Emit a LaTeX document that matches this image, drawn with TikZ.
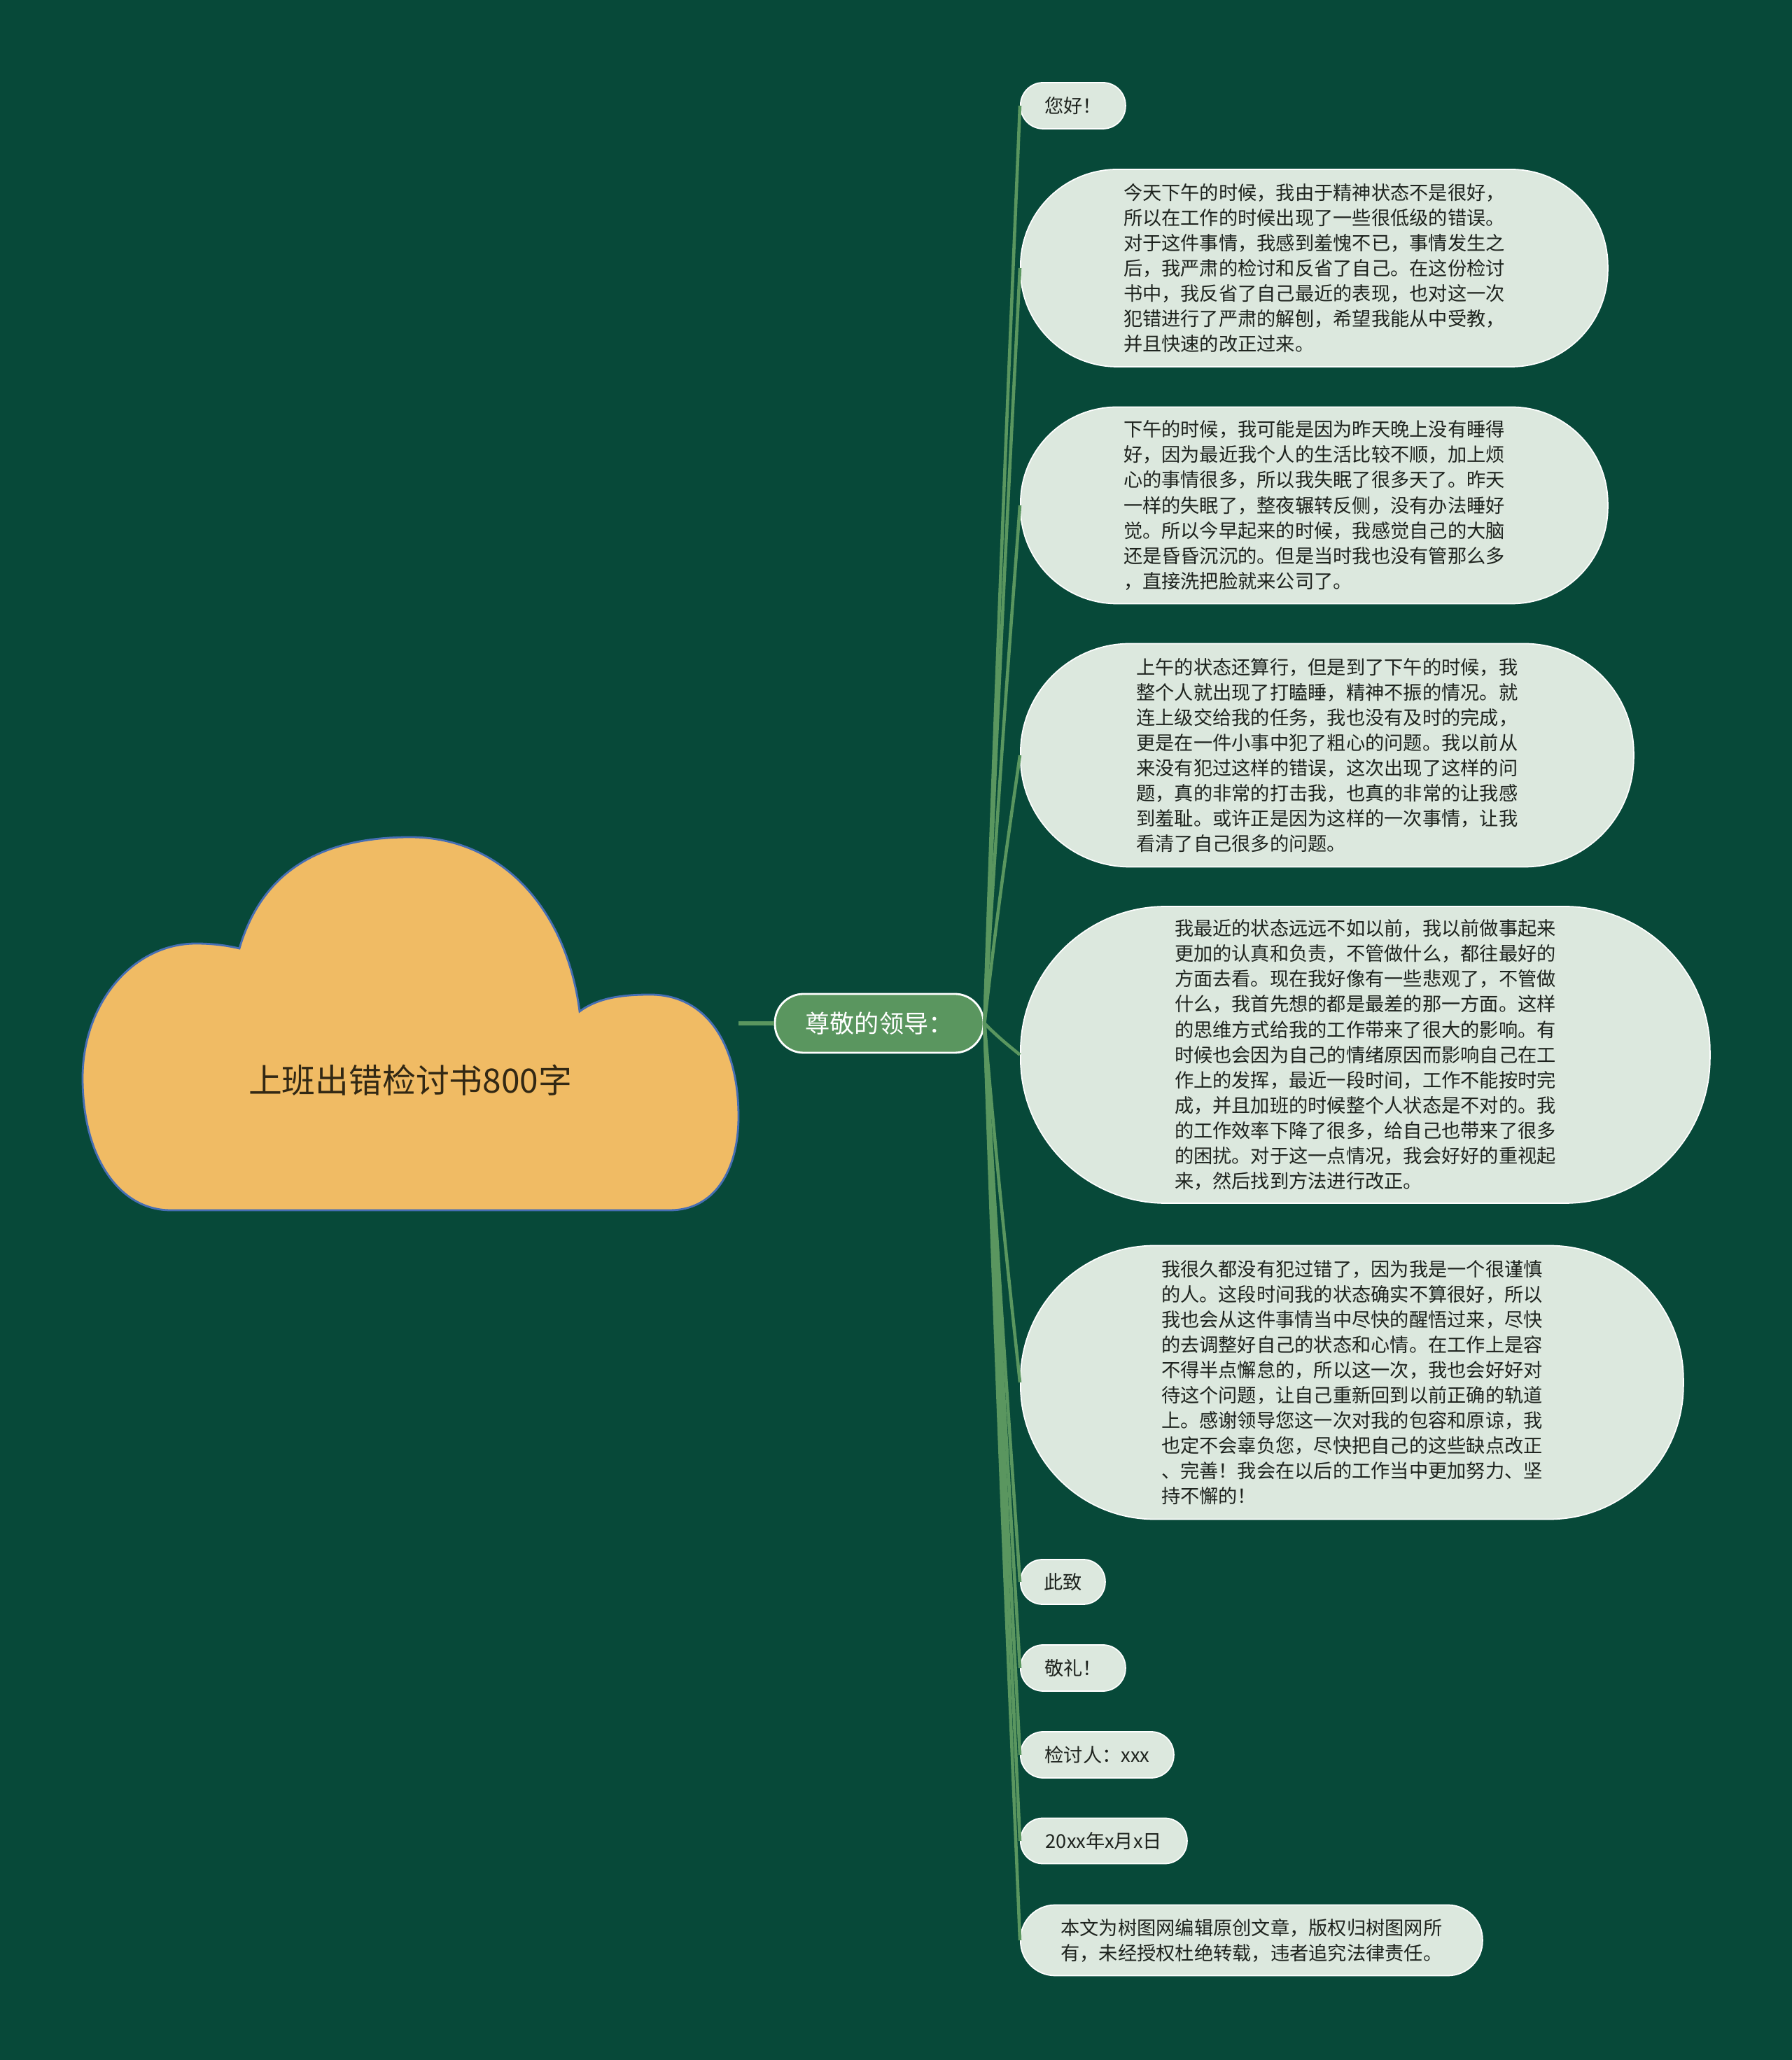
\documentclass[tikz,border=0pt]{standalone}
\usepackage{fontspec}
\setmainfont{Noto Sans CJK SC}
\usepackage{tikz}
\usetikzlibrary{calc}
\definecolor{boardGreen}{RGB}{7,73,57}
\definecolor{cloudFill}{RGB}{240,187,100}
\definecolor{cloudEdge}{RGB}{70,110,180}
\definecolor{stemGreen}{RGB}{90,150,95}
\definecolor{leafFill}{RGB}{220,232,222}
\definecolor{leafText}{RGB}{30,35,30}
\definecolor{titleText}{RGB}{50,40,20}

\begin{document}
\begin{tikzpicture}[
    leaf/.style 2 args={rectangle,draw=white,line width=0.5pt,fill=leafFill,
                 text=leafText,anchor=west,align=left,inner sep=0pt,
                 font=\fontsize{7.75pt}{10.25pt}\selectfont,
                 minimum width=#1cm,minimum height=#2cm,
                 rounded corners={#2cm*0.49}},
    hub/.style={rectangle,draw=white,line width=0.8pt,fill=stemGreen,text=white,
                 font=\fontsize{10pt}{12pt}\selectfont,inner sep=0pt,
                 minimum width=2.98cm,minimum height=0.84cm,rounded corners=0.41cm},
    ttl/.style={text=titleText,font=\fontsize{13.6pt}{16pt}\selectfont},
    stem/.style={stemGreen,line width=1.7pt},
    branch/.style={stemGreen,line width=1.3pt}]

    % board
    \fill[boardGreen] (0,0) rectangle (25.6,29.43);

    % cloud
    \filldraw[fill=cloudFill,draw=cloudEdge,line width=0.8pt]
      (3.42,15.88) .. controls (3.75,17.0) and (4.6,17.47) .. (5.86,17.47)
      .. controls (7.2,17.47) and (8.1,16.4) .. (8.28,14.98)
      .. controls (8.55,15.18) and (8.9,15.22) .. (9.29,15.22)
      .. controls (10.1,15.22) and (10.55,14.5) .. (10.55,13.48)
      .. controls (10.55,12.7) and (10.2,12.14) .. (9.57,12.14)
      -- (2.44,12.14)
      .. controls (1.7,12.14) and (1.18,12.9) .. (1.18,14.03)
      .. controls (1.18,15.1) and (1.9,15.95) .. (2.8,15.95)
      .. controls (3.05,15.95) and (3.25,15.92) .. (3.42,15.88) -- cycle;
    \node[ttl] (title) at (5.86,14.00) {上班出错检讨书800字};

    % hub
    \coordinate (cloudR) at (10.55,14.81);
    \node[hub] (lead) at (12.56,14.81) {尊敬的领导：};
    \draw[stem] (cloudR) -- (lead.west);

    % leaves
    \node[leaf={1.50}{0.66}] (hello) at (14.57,27.92) {您好！};
    \node[leaf={8.39}{2.82}] (p1) at (14.57,25.60) {%
      今天下午的时候，我由于精神状态不是很好，\\
      所以在工作的时候出现了一些很低级的错误。\\
      对于这件事情，我感到羞愧不已，事情发生之\\
      后，我严肃的检讨和反省了自己。在这份检讨\\
      书中，我反省了自己最近的表现，也对这一次\\
      犯错进行了严肃的解刨，希望我能从中受教，\\
      并且快速的改正过来。};
    \node[leaf={8.39}{2.81}] (p2) at (14.57,22.21) {%
      下午的时候，我可能是因为昨天晚上没有睡得\\
      好，因为最近我个人的生活比较不顺，加上烦\\
      心的事情很多，所以我失眠了很多天了。昨天\\
      一样的失眠了，整夜辗转反侧，没有办法睡好\\
      觉。所以今早起来的时候，我感觉自己的大脑\\
      还是昏昏沉沉的。但是当时我也没有管那么多\\
      ，直接洗把脸就来公司了。};
    \node[leaf={8.76}{3.19}] (p3) at (14.57,18.64) {%
      上午的状态还算行，但是到了下午的时候，我\\
      整个人就出现了打瞌睡，精神不振的情况。就\\
      连上级交给我的任务，我也没有及时的完成，\\
      更是在一件小事中犯了粗心的问题。我以前从\\
      来没有犯过这样的错误，这次出现了这样的问\\
      题，真的非常的打击我，也真的非常的让我感\\
      到羞耻。或许正是因为这样的一次事情，让我\\
      看清了自己很多的问题。};
    \node[leaf={9.85}{4.24}] (p4) at (14.57,14.36) {%
      我最近的状态远远不如以前，我以前做事起来\\
      更加的认真和负责，不管做什么，都往最好的\\
      方面去看。现在我好像有一些悲观了，不管做\\
      什么，我首先想的都是最差的那一方面。这样\\
      的思维方式给我的工作带来了很大的影响。有\\
      时候也会因为自己的情绪原因而影响自己在工\\
      作上的发挥，最近一段时间，工作不能按时完\\
      成，并且加班的时候整个人状态是不对的。我\\
      的工作效率下降了很多，给自己也带来了很多\\
      的困扰。对于这一点情况，我会好好的重视起\\
      来，然后找到方法进行改正。};
    \node[leaf={9.47}{3.91}] (p5) at (14.57,9.68) {%
      我很久都没有犯过错了，因为我是一个很谨慎\\
      的人。这段时间我的状态确实不算很好，所以\\
      我也会从这件事情当中尽快的醒悟过来，尽快\\
      的去调整好自己的状态和心情。在工作上是容\\
      不得半点懈怠的，所以这一次，我也会好好对\\
      待这个问题，让自己重新回到以前正确的轨道\\
      上。感谢领导您这一次对我的包容和原谅，我\\
      也定不会辜负您，尽快把自己的这些缺点改正\\
      、完善！我会在以后的工作当中更加努力、坚\\
      持不懈的！};
    \node[leaf={1.21}{0.64}] (regards) at (14.57,6.83) {此致};
    \node[leaf={1.50}{0.66}] (salute) at (14.57,5.60) {敬礼！};
    \node[leaf={2.19}{0.66}] (signer) at (14.57,4.36) {检讨人：xxx};
    \node[leaf={2.38}{0.65}] (date) at (14.57,3.13) {20xx年x月x日};
    \node[leaf={6.60}{1.01}] (note) at (14.57,1.71) {%
      本文为树图网编辑原创文章，版权归树图网所\\
      有，未经授权杜绝转载，违者追究法律责任。};

    % branches
    \foreach \n/\y in {hello/27.92,p1/25.60,p2/22.21,p3/18.64,p4/14.36,p5/9.68,
                       regards/6.83,salute/5.60,signer/4.36,date/3.13,note/1.71} {
      \draw[branch] (lead.east) .. controls (14.28,{(14.81+\y)/2})
        and (14.52,{\y+0.1*(14.81-\y)}) .. (\n.west);
    }
\end{tikzpicture}
\end{document}
